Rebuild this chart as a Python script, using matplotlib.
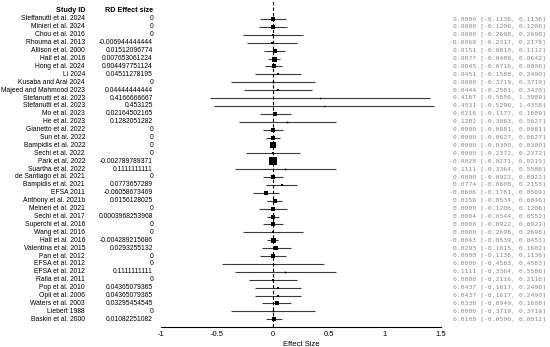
import matplotlib
matplotlib.use("Agg")
import matplotlib.pyplot as plt
import matplotlib.transforms as mtransforms

plt.rcParams['font.family'] = ['Liberation Sans', 'DejaVu Sans']

studies = ["Steffanutti et al. 2024", "Minieri et al. 2024", "Chou et al. 2016",
           "Rhouma et al. 2013", "Allison et al. 2000", "Hall et al. 2016",
           "Hong et al. 2024", "Li 2024", "Kusaba and Arai 2024",
           "Majeed and Mahmood 2023", "Stefanutti et al. 2023", "Stefanutti et al. 2023",
           "Mo et al. 2023", "He et al. 2023", "Gianetto et al. 2022", "Sun et al. 2022",
           "Bampidis et al. 2022", "Sechi et al. 2022", "Park et al. 2022",
           "Suartha et al. 2022", "de Santiago et al. 2021", "Bampidis et al. 2021",
           "EFSA 2011", "Anthony et al. 2021b", "Meineri et al. 2021", "Sechi et al. 2017",
           "Superchi et al. 2016", "Wang et al. 2016", "Hall et al. 2016",
           "Valentina et al. 2015", "Pan et al. 2012", "EFSA et al. 2012",
           "EFSA et al. 2012", "Raila et al. 2011", "Pop et al. 2010", "Opii et al. 2006",
           "Waters et al. 2003", "Liebert 1988", "Baskin et al. 2000"]

effect_text = ["0", "0", "0", "-0.006944444444", "0.01512096774", "0.007653061224",
               "0.004497751124", "0.04511278195", "0", "0.04444444444", "0.4166666667",
               "0.453125", "0.02164502165", "0.1282051282", "0", "0", "0", "0",
               "-0.002789789371", "0.1111111111", "0", "0.0773657289", "-0.06058673469",
               "0.0156128025", "0", "0.0003968253968", "0", "0", "-0.004289215686",
               "0.0293255132", "0", "0", "0.1111111111", "0", "0.04365079365",
               "0.04365079365", "0.03295454545", "0", "0.01082251082"]

effect = [float(t) for t in effect_text]

ci_low = [-0.1136, -0.1206, -0.2698, -0.2317, -0.0810, -0.0489, -0.0716, -0.1588,
          -0.3719, -0.2581, -0.5656, -0.5296, -0.1177, -0.3063, -0.0881, -0.0627,
          -0.0300, -0.2372, -0.0271, -0.3364, -0.0922, -0.0608, -0.1781, -0.0534,
          -0.1206, -0.0544, -0.0922, -0.2698, -0.0539, -0.1015, -0.1136, -0.4583,
          -0.3364, -0.2116, -0.1617, -0.1617, -0.0949, -0.3719, -0.0596]

ci_high = [0.1136, 0.1206, 0.2698, 0.2178, 0.1112, 0.0642, 0.0806, 0.2490,
           0.3719, 0.3470, 1.3989, 1.4358, 0.1609, 0.5627, 0.0881, 0.0627,
           0.0300, 0.2372, 0.0215, 0.5586, 0.0922, 0.2155, 0.0569, 0.0846,
           0.1206, 0.0552, 0.0922, 0.2698, 0.0453, 0.1602, 0.1136, 0.4583,
           0.5586, 0.2116, 0.2490, 0.2490, 0.1608, 0.3719, 0.0812]

# square marker side (points)
box_size = [2.5, 2.5, 1.5, 1.5, 2.8, 3.6, 3.0, 1.8, 1.2, 1.5, 1.0, 1.0,
            2.5, 1.2, 2.6, 3.0, 4.5, 1.6, 5.2, 1.2, 2.5, 2.0, 2.2, 2.8,
            2.3, 3.2, 2.5, 1.5, 3.6, 2.3, 2.3, 1.0, 1.2, 1.6, 1.8, 1.8,
            2.5, 1.2, 3.0]

xticks = [-1, -0.5, 0, 0.5, 1, 1.5]
xtick_labels = ["-1", "-0.5", "0", "0.5", "1", "1.5"]

W, H = 550, 347
fig = plt.figure(figsize=(W / 100, H / 100), dpi=100)

# plot region in pixels
left_px, right_px = 161, 441
axis_px = 327
ax = fig.add_axes([left_px / W, 1 - axis_px / H, (right_px - left_px) / W, axis_px / H])

n = len(studies)
row_h = 7.9
first_row_px = 19
ax.set_xlim(-1, 1.5)
ax.set_ylim(n - 1 + (axis_px - (first_row_px + (n - 1) * row_h)) / row_h, -first_row_px / row_h)

for i in range(n):
    ax.plot([ci_low[i], ci_high[i]], [i, i], color="#3a3a3a", lw=0.8, solid_capstyle="butt")
    ax.plot(effect[i], i, marker="s", color="black", markersize=box_size[i], mew=0)

ax.axvline(0, color="black", lw=0.8, ls=(0, (3, 2)))

for s in ["top", "right", "left"]:
    ax.spines[s].set_visible(False)
ax.spines["bottom"].set_linewidth(0.8)
ax.set_yticks([])
ax.set_xticks(xticks)
ax.set_xticklabels(xtick_labels, fontsize=5.5)
ax.tick_params(axis="x", length=0, pad=3)
ax.set_xlabel("Effect Size", fontsize=5.5, labelpad=2)

trans = mtransforms.blended_transform_factory(fig.transFigure, ax.transData)
hdr_y = -first_row_px / row_h + 11 / row_h
ax.text(85 / W, hdr_y, "Study ID", transform=trans, ha="right", va="center",
        fontsize=5.2, fontweight="bold", clip_on=False)
ax.text(153 / W, hdr_y, "RD Effect size", transform=trans, ha="right", va="center",
        fontsize=5.2, fontweight="bold", clip_on=False)

for i in range(n):
    ax.text(85 / W, i, studies[i], transform=trans, ha="right", va="center",
            fontsize=4.9, clip_on=False)
    ax.text(153 / W, i, effect_text[i], transform=trans, ha="right", va="center",
            fontsize=4.85, clip_on=False)
    right_txt = f"{effect[i]:.4f} [{ci_low[i]:.4f}, {ci_high[i]:.4f}]"
    ax.text(546 / W, i, right_txt, transform=trans, ha="right", va="center",
            fontsize=4.6, family="DejaVu Sans Mono", color="#8a8a8a", clip_on=False)

fig.savefig("out.png", dpi=100)
plt.close(fig)
